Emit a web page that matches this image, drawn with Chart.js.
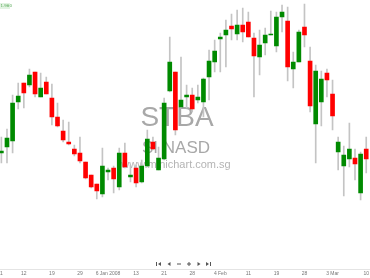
<!DOCTYPE html>
<html>
<head>
<meta charset="utf-8">
<script src="https://cdn.jsdelivr.net/npm/chart.js@4/dist/chart.umd.min.js"></script>
<style>
  html, body { margin: 0; padding: 0; background: #fff; overflow: hidden; }
  #wrap { position: relative; width: 373px; height: 278px; margin-left: -2px; }
</style>
</head>
<body>
<div id="wrap"><canvas id="grafico" width="373" height="278"></canvas></div>
<script>
// dados (preco)
const abertura = [1.47,1.53,1.59,1.98,2.17,2.15,2.28,2.03,2.18,2.02,1.83,1.69,1.58,1.51,1.47,1.38,1.25,1.16,1.06,1.28,
  1.32,1.13,1.47,1.23,1.32,1.18,1.34,1.58,1.30,1.41,2.09,2.28,1.93,2.03,2.05,2.00,1.98,2.23,2.38,2.61,
  2.65,2.74,2.66,2.75,2.78,2.62,2.43,2.57,2.65,2.54,2.83,2.79,2.31,2.38,2.73,2.39,1.76,1.98,2.27,2.06,
  1.48,1.34,1.41,1.42,1.07,1.51];
const maxima = [1.63,1.71,2.05,2.17,2.17,2.31,2.28,2.27,2.23,2.16,1.97,1.80,1.78,1.55,1.63,1.38,1.25,1.16,1.52,1.32,
  1.34,1.52,1.57,1.35,1.35,1.40,1.70,1.63,1.53,2.02,2.63,2.28,2.43,2.15,2.12,2.15,2.22,2.50,2.60,2.67,
  2.80,2.86,2.90,2.92,2.88,2.67,2.70,2.72,2.89,2.88,2.95,2.93,2.48,2.70,2.96,2.53,2.35,2.29,2.31,2.20,
  1.63,1.54,1.77,1.51,1.48,1.63];
const minimas = [1.37,1.37,1.47,1.91,1.92,2.13,2.03,2.03,2.06,1.75,1.73,1.58,1.55,1.44,1.37,1.21,1.12,1.01,1.03,1.20,
  1.07,1.10,1.32,1.18,1.13,1.17,1.33,1.50,1.30,1.40,2.08,1.65,1.92,1.92,1.88,1.97,1.83,2.00,2.28,2.28,
  2.33,2.60,2.60,2.58,2.63,2.03,2.25,2.45,2.65,2.48,2.68,2.19,2.12,2.38,2.53,1.88,1.37,1.74,2.03,1.70,
  1.30,1.04,1.33,1.20,1.00,1.27];
const fechamento = [1.49,1.62,1.97,2.04,2.07,2.25,2.06,2.12,2.06,1.83,1.74,1.60,1.56,1.46,1.39,1.22,1.13,1.09,1.34,1.30,
  1.21,1.47,1.33,1.25,1.17,1.34,1.61,1.51,1.42,1.97,2.38,1.70,2.00,2.05,1.91,2.03,2.21,2.39,2.49,2.63,
  2.70,2.71,2.75,2.68,2.63,2.44,2.55,2.65,2.66,2.83,2.88,2.33,2.38,2.68,2.65,1.94,2.29,2.21,2.20,1.84,
  1.58,1.45,1.51,1.36,1.46,1.41];

// rotulos do eixo x (posicao do candle e texto)
const posRotulos = [0, 4, 9, 14, 19, 24, 29, 34, 39, 44, 49, 54, 59, 65];
const textoRotulos = ['1', '12', '19', '29', '6 Jan 2008', '13', '21', '28', '4 Feb', '11', '19', '28', '3 Mar', '10'];

const candles = abertura.map((v, i) => i + 1);
const verde = '#008a00';
const vermelho = '#ff0000';

const corpos = abertura.map((o, i) => [o, fechamento[i]]);
const pavios = abertura.map((o, i) => [minimas[i], maxima[i]]);
const cores = abertura.map((o, i) => fechamento[i] >= o ? verde : vermelho);

// marca d'agua e botoes
const extras = {
  id: 'extras',
  beforeDatasetsDraw(chart) {
    const ctx = chart.ctx;
    ctx.save();
    ctx.textAlign = 'center';
    ctx.textBaseline = 'alphabetic';
    ctx.fillStyle = '#a8a8a8';
    ctx.font = '28px "Liberation Sans", Arial, sans-serif';
    ctx.fillText('STBA', 179, 126);
    ctx.font = '17px "Liberation Sans", Arial, sans-serif';
    ctx.fillText('SI NASD', 178, 153);
    ctx.fillStyle = '#b4b4b4';
    ctx.font = '11px "Liberation Sans", Arial, sans-serif';
    ctx.fillText('www.minichart.com.sg', 178, 168);
    ctx.restore();
  },
  afterDraw(chart) {
    const ctx = chart.ctx;
    ctx.save();
    // etiqueta de preco no canto
    ctx.fillStyle = '#e2f3e2';
    ctx.fillRect(2, 3, 10, 6);
    ctx.fillStyle = '#5aaa5a';
    ctx.font = '4px "DejaVu Sans", sans-serif';
    ctx.textAlign = 'left';
    ctx.textBaseline = 'middle';
    ctx.fillText('1.960', 2.5, 6);

    // botoes de navegacao
    ctx.fillStyle = '#555';
    ctx.strokeStyle = '#555';
    ctx.lineWidth = 1;
    const y = 264;
    const tri = (x, dir) => {
      ctx.beginPath();
      ctx.moveTo(x + (dir < 0 ? -1.5 : 1.5), y);
      ctx.lineTo(x - (dir < 0 ? -1.5 : 1.5), y - 2);
      ctx.lineTo(x - (dir < 0 ? -1.5 : 1.5), y + 2);
      ctx.closePath();
      ctx.fill();
    };
    // |<  <  -
    ctx.fillRect(158, y - 2, 1, 4);
    tri(161.5, -1);
    tri(171, -1);
    ctx.fillRect(179, y - 0.5, 4, 1);
    // +  >  >|
    ctx.fillRect(189, y - 0.5, 4, 1);
    ctx.fillRect(190.5, y - 2, 1, 4);
    tri(201, 1);
    tri(209.5, 1);
    ctx.fillRect(212, y - 2, 1, 4);
    ctx.restore();
  }
};

const ctx = document.getElementById('grafico').getContext('2d');
const grafico = new Chart(ctx, {
  type: 'bar',
  data: {
    labels: candles,
    datasets: [
      {
        label: 'pavio',
        data: pavios,
        backgroundColor: '#c4c4c4',
        barThickness: 1,
        grouped: false,
        borderSkipped: false,
        order: 2
      },
      {
        label: 'corpo',
        data: corpos,
        backgroundColor: cores,
        barThickness: 4,
        grouped: false,
        borderSkipped: false,
        minBarLength: 1,
        order: 1
      }
    ]
  },
  options: {
    responsive: false,
    animation: false,
    devicePixelRatio: 1,
    layout: { padding: 0 },
    plugins: {
      legend: { display: false },
      tooltip: { enabled: false }
    },
    scales: {
      x: {
        offset: true,
        grid: { display: false, drawTicks: false },
        border: { display: true, color: '#e4e4e4' },
        afterFit(scale) { scale.height = 9; },
        ticks: {
          autoSkip: false,
          maxRotation: 0,
          padding: 2,
          color: '#777',
          font: { size: 5, family: '"Liberation Sans", Arial, sans-serif' },
          callback(val, i) {
            const k = posRotulos.indexOf(i);
            return k >= 0 ? textoRotulos[k] : '';
          }
        }
      },
      y: {
        display: false,
        min: 0.31,
        max: 3.00
      }
    }
  },
  plugins: [extras]
});
</script>
</body>
</html>
